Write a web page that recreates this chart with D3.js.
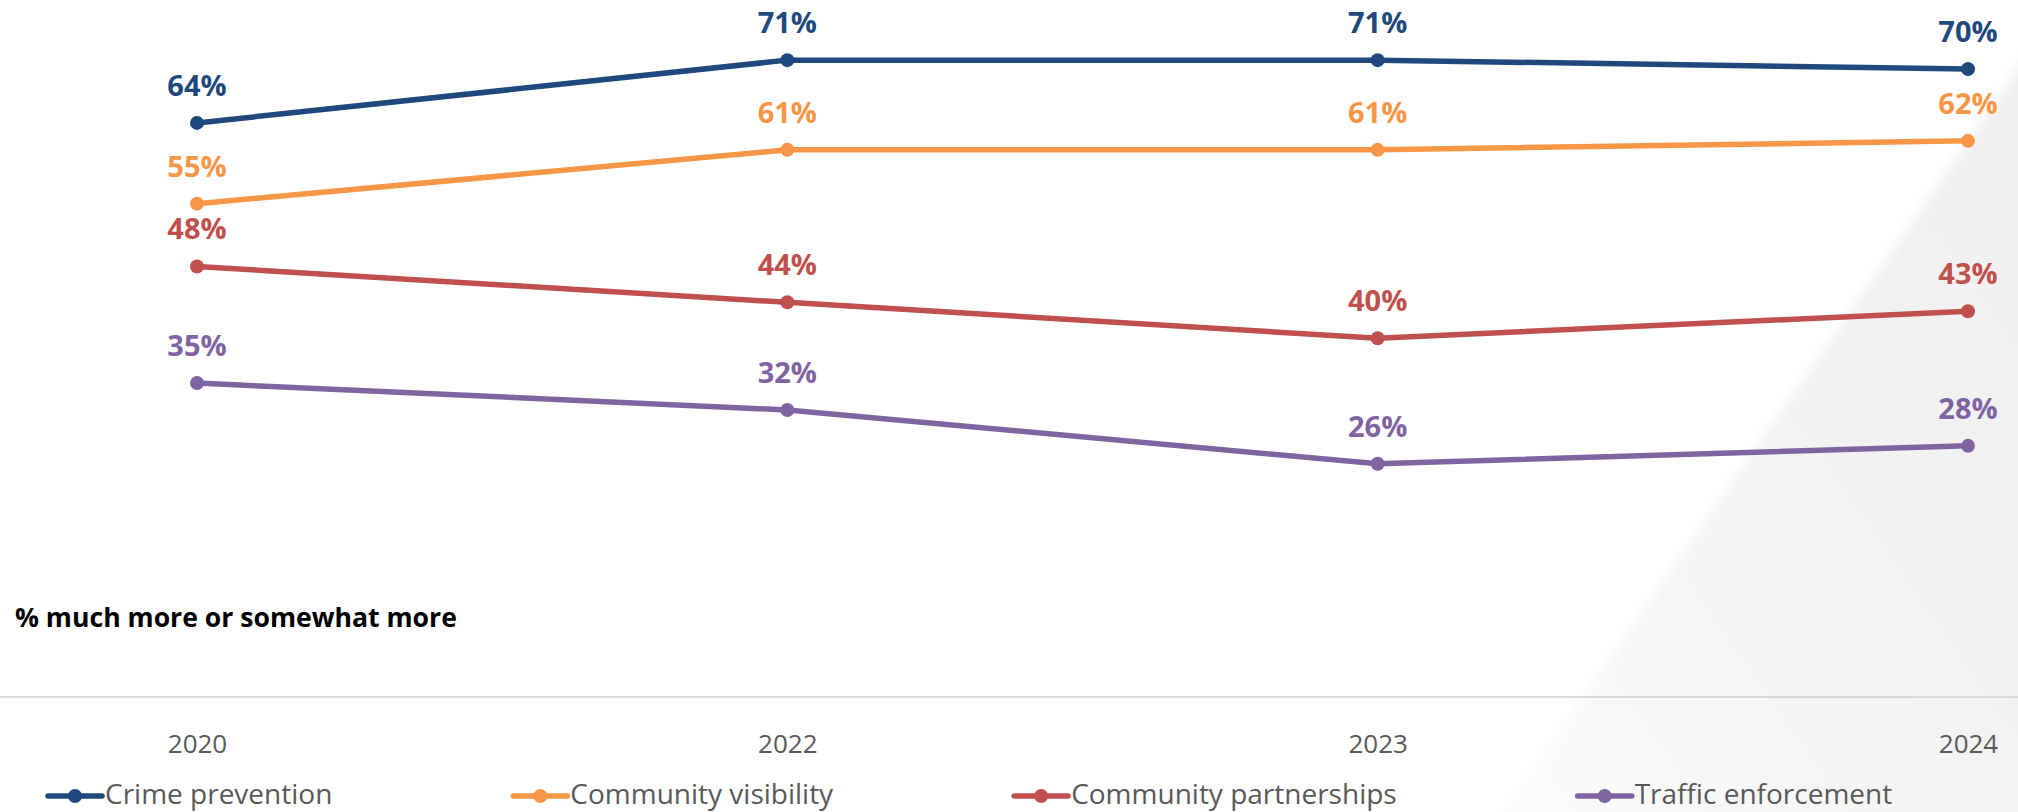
<!DOCTYPE html>
<html>
<head>
<meta charset="utf-8">
<script src="https://cdn.jsdelivr.net/npm/d3@7"></script>
<style>
  html, body { margin: 0; padding: 0; background: #ffffff; }
  svg { display: block; }
  text { font-family: "Open Sans", "Noto Sans", sans-serif; }
</style>
</head>
<body>
<svg id="chart" width="2018" height="812"></svg>
<script>
// Survey years along the x axis
const years = ["2020", "2022", "2023", "2024"];

// Share answering "much more or somewhat more", per priority
const crimePrevention       = [64, 71, 71, 70];
const communityVisibility   = [55, 61, 61, 62];
const communityPartnerships = [48, 44, 40, 43];
const trafficEnforcement    = [35, 32, 26, 28];

const seriesNames  = ["Crime prevention", "Community visibility", "Community partnerships", "Traffic enforcement"];
const seriesValues = [crimePrevention, communityVisibility, communityPartnerships, trafficEnforcement];
const seriesColors = ["#1f497d", "#f79646", "#c0504d", "#8064a2"];

const subtitle = "% much more or somewhat more";

const W = 2018, H = 812;
const svg = d3.select("#chart");

// Soft grey wedge in the lower-right background
const defs = svg.append("defs");
const grad = defs.append("linearGradient")
  .attr("id", "wedge").attr("x1", "1").attr("y1", "0").attr("x2", "0").attr("y2", "1");
grad.append("stop").attr("offset", "0%").attr("stop-color", "#efefef");
grad.append("stop").attr("offset", "60%").attr("stop-color", "#f4f4f4");
grad.append("stop").attr("offset", "100%").attr("stop-color", "#fcfcfc");
defs.append("filter").attr("id", "soft").attr("x", "-10%").attr("y", "-10%").attr("width", "120%").attr("height", "120%")
  .append("feGaussianBlur").attr("stdDeviation", 6);
svg.append("path")
  .attr("d", `M${W + 20},40 L${W + 20},${H + 20} L1490,${H + 20} Z`)
  .attr("fill", "url(#wedge)")
  .attr("filter", "url(#soft)");

// Scales
const baseY = 697;
const x = d3.scalePoint().domain(years).range([197, 1968]);
const y = d3.scaleLinear().domain([0, 80]).range([baseY, baseY - 80 * 8.97]);

// Category axis
const xAxis = svg.append("g")
  .attr("transform", `translate(0,${baseY})`)
  .call(d3.axisBottom(x).tickSize(0).tickPadding(38));
xAxis.select(".domain").remove();
xAxis.selectAll(".tick text")
  .attr("fill", "#595959")
  .style("font-size", "26px")
  .style("font-family", "'Open Sans', sans-serif");
svg.append("line")
  .attr("x1", 0).attr("x2", W)
  .attr("y1", baseY).attr("y2", baseY)
  .attr("stroke", "#d9d9d9").attr("stroke-width", 2);

// Lines, markers and value labels
const line = d3.line().x((d, i) => x(years[i])).y(d => y(d));

seriesValues.forEach((vals, s) => {
  const g = svg.append("g");
  g.append("path")
    .datum(vals)
    .attr("d", line)
    .attr("fill", "none")
    .attr("stroke", seriesColors[s])
    .attr("stroke-width", 5.5)
    .attr("stroke-linejoin", "round");
  g.selectAll("circle")
    .data(vals)
    .join("circle")
    .attr("cx", (d, i) => x(years[i]))
    .attr("cy", d => y(d))
    .attr("r", 7)
    .attr("fill", seriesColors[s]);
  g.selectAll("text")
    .data(vals)
    .join("text")
    .attr("x", (d, i) => x(years[i]))
    .attr("y", d => y(d) - 27)
    .attr("text-anchor", "middle")
    .attr("fill", seriesColors[s])
    .style("font-size", "29px")
    .style("font-weight", "700")
    .text(d => d + "%");
});

// Subtitle under the plot
svg.append("text")
  .attr("x", 15).attr("y", 627)
  .attr("fill", "#000000")
  .style("font-size", "26.6px")
  .style("font-weight", "700")
  .text(subtitle);

// Legend laid out left to right
const legendY = 796;
let lx = 48;
seriesNames.forEach((name, s) => {
  const g = svg.append("g");
  g.append("line")
    .attr("x1", lx).attr("x2", lx + 54)
    .attr("y1", legendY).attr("y2", legendY)
    .attr("stroke", seriesColors[s]).attr("stroke-width", 5.5)
    .attr("stroke-linecap", "round");
  g.append("circle")
    .attr("cx", lx + 27).attr("cy", legendY).attr("r", 7)
    .attr("fill", seriesColors[s]);
  const t = g.append("text")
    .attr("x", lx + 57).attr("y", legendY + 8)
    .attr("fill", "#595959")
    .style("font-size", "28px")
    .text(name);
  lx += 57 + t.node().getComputedTextLength() + 181;
});
</script>
</body>
</html>
